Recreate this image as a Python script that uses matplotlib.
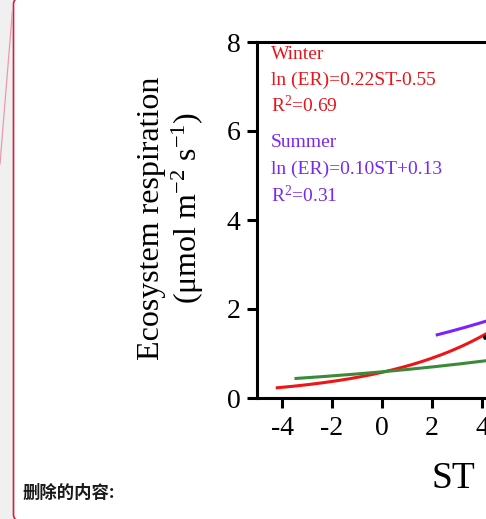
import numpy as np
import matplotlib
matplotlib.use("Agg")
import matplotlib.pyplot as plt
from matplotlib.patches import FancyBboxPatch, Rectangle
from matplotlib.lines import Line2D

plt.rcParams['font.family'] = ['Liberation Serif', 'DejaVu Serif']
plt.rcParams['mathtext.fontset'] = 'custom'
plt.rcParams['mathtext.rm'] = 'Liberation Serif'
plt.rcParams['mathtext.it'] = 'Liberation Serif:italic'
plt.rcParams['axes.unicode_minus'] = False

# Fitted exponential models: ln(ER) = slope * ST + intercept
seasons = ["Winter", "Summer", "Annual"]
slopes = [0.22, 0.10, 0.085]
intercepts = [-0.55, 0.13, -0.53]
st_start = [-4.25, 2.15, -3.5]
st_end = [8.0, 8.0, 8.0]
line_colors = ["#f01414", "#8020ff", "#3a8a3a"]
text_colors = ["#e8141c", "#7a28f0", "#3a8a3a"]

# Observation visible near the right margin
obs_st = [4.1]
obs_er = [1.37]

x_ticks = [-4, -2, 0, 2, 4, 6, 8]
y_ticks = [0, 2, 4, 6, 8]

W, H = 486, 519
fig = plt.figure(figsize=(W / 100, H / 100), dpi=100)

def fx(px):
    return px / W

def fy(py):
    return 1 - py / H

# Review-pane frame on the left
fig.patches.append(Rectangle((0, 0), fx(12.5), 1, transform=fig.transFigure,
                             facecolor="#f0f0f0", edgecolor="none", zorder=0))
fig.patches.append(FancyBboxPatch((fx(13.5), fy(520.5)), 1.2, fy(-1.8) - fy(520.5),
                                  boxstyle="round,pad=0,rounding_size=0.012",
                                  transform=fig.transFigure, facecolor="white",
                                  edgecolor="#d0203f", linewidth=1.2, zorder=0.5))
fig.lines.append(Line2D([fx(12.5), fx(0)], [fy(10), fy(164)], transform=fig.transFigure,
                        color="#e89aae", linewidth=0.9, zorder=1))

ax = fig.add_axes([fx(257), fy(398), 375 / W, 356 / H])
ax.set_zorder(2)
ax.patch.set_alpha(0)
ax.set_xlim(-5, 10)
ax.set_ylim(0, 8)

for k in range(len(seasons)):
    st = np.linspace(st_start[k], st_end[k], 200)
    er = np.exp(slopes[k] * st + intercepts[k])
    ax.plot(st, er, color=line_colors[k], linewidth=2.2, solid_capstyle="butt", zorder=3)

ax.scatter(obs_st, obs_er, s=6, color="black", zorder=4)

for side in ["top", "left", "bottom"]:
    ax.spines[side].set_linewidth(2.2)
ax.spines["right"].set_visible(False)
ax.set_xticks(x_ticks)
ax.set_yticks(y_ticks)
ax.tick_params(axis="both", direction="out", length=7, width=2.2, labelsize=20)
ax.tick_params(axis="y", pad=5)
ax.tick_params(axis="x", pad=6)

# Equation annotations
ann_x = fx(271)
lines = [
    ("Winter", 59, 0),
    ("ln (ER)=0.22ST-0.55", 85, 0),
    ("R$^{2}$=0.69", 112, 0),
    ("Summer", 147, 1),
    ("ln (ER)=0.10ST+0.13", 174, 1),
    ("R$^{2}$=0.31", 202, 1),
]
for txt, base, k in lines:
    fig.text(ann_x, fy(base), txt, color=text_colors[k], fontsize=14,
             ha="left", va="baseline", zorder=3)

# Axis titles
fig.text(fx(151), fy(218), "Ecosystem respiration", rotation=90, fontsize=23,
         ha="center", va="center", zorder=3)
fig.text(fx(188), fy(208), "(μmol m$^{-2}$ s$^{-1}$)", rotation=90, fontsize=23,
         ha="center", va="center", zorder=3)
fig.text(fx(453), fy(488), "ST", fontsize=27, ha="center", va="baseline", zorder=3)

fig.text(fx(22), fy(493), "删除的内容:", fontsize=12.5, fontweight="bold", color="#1a1a1a",
         family=["Noto Sans CJK SC", "DejaVu Sans"], ha="left", va="center", zorder=3)

fig.savefig("out.png", dpi=100)
